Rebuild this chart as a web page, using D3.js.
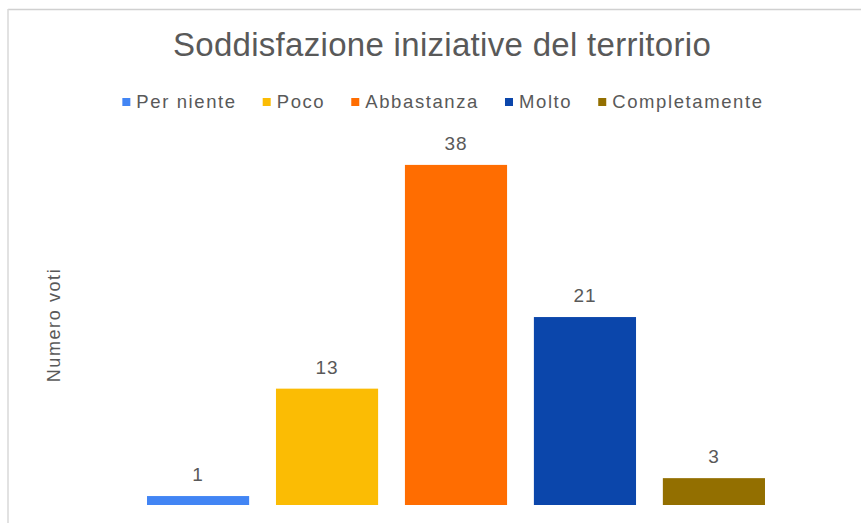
<!DOCTYPE html>
<html lang="en">
<head>
<meta charset="UTF-8">
<title>Soddisfazione iniziative del territorio</title>
<script src="https://d3js.org/d3.v7.min.js"></script>
<style>
  body { margin: 0; background: #fff; }
  text { font-family: "Liberation Sans", Arial, sans-serif; fill: #595959; }
</style>
</head>
<body>
<script>

// data
var categories = ["Per niente", "Poco", "Abbastanza", "Molto", "Completamente"];
var votes = [1, 13, 38, 21, 3];
var colors = ["#4285f4", "#fbbc04", "#ff6d01", "#0b46ab", "#936f00"];

var W = 861, H = 523;

var svg = d3.select("body").append("svg")
    .attr("width", W)
    .attr("height", H);

// frame of the embedded chart (top and left edges)
svg.append("line").attr("x1", 8).attr("x2", W).attr("y1", 9.5).attr("y2", 9.5)
    .attr("stroke", "#d0d0d0").attr("stroke-width", 1.5);
svg.append("line").attr("x1", 8).attr("x2", 8).attr("y1", 9).attr("y2", H)
    .attr("stroke", "#d8d8d8").attr("stroke-width", 1.5);

// title
svg.append("text")
    .attr("x", 442).attr("y", 56)
    .attr("text-anchor", "middle")
    .style("font-size", "33px")
    .style("letter-spacing", "0.3px")
    .text("Soddisfazione iniziative del territorio");

// scales
var x = d3.scaleBand()
    .domain(categories)
    .range([133.6, 778.4])
    .paddingInner(0.208)
    .paddingOuter(0.104);

var y = d3.scaleLinear()
    .domain([0, 40])
    .range([505, 147]);

var color = d3.scaleOrdinal().domain(categories).range(colors);

// legend
var legend = svg.append("g").attr("class", "legend");
var items = legend.selectAll("g")
    .data(categories)
    .enter().append("g");

items.append("rect")
    .attr("width", 8).attr("height", 8)
    .attr("y", 98)
    .attr("fill", function(d) { return color(d); });

items.append("text")
    .attr("x", 14).attr("y", 108)
    .style("font-size", "18.5px")
    .style("letter-spacing", "1.6px")
    .text(function(d) { return d; });

// place legend items one after another, centred
var gap = 26, pos = 0, offsets = [];
items.each(function() {
    offsets.push(pos);
    pos += this.getBBox().width + gap;
});
var total = pos - gap;
var startX = 443 - total / 2;
items.attr("transform", function(d, i) { return "translate(" + (startX + offsets[i]) + ",0)"; });

// bars
svg.append("g")
    .selectAll("rect")
    .data(votes)
    .enter().append("rect")
    .attr("x", function(d, i) { return x(categories[i]); })
    .attr("y", function(d) { return y(d); })
    .attr("width", x.bandwidth())
    .attr("height", function(d) { return y(0) - y(d); })
    .attr("fill", function(d, i) { return color(categories[i]); });

// value labels
svg.append("g")
    .selectAll("text")
    .data(votes)
    .enter().append("text")
    .attr("x", function(d, i) { return x(categories[i]) + x.bandwidth() / 2; })
    .attr("y", function(d) { return y(d) - 15; })
    .attr("text-anchor", "middle")
    .style("font-size", "19px")
    .style("letter-spacing", "1px")
    .text(function(d) { return d; });

// y axis title
svg.append("text")
    .attr("transform", "translate(60,325) rotate(-90)")
    .attr("text-anchor", "middle")
    .style("font-size", "18px")
    .style("letter-spacing", "1.6px")
    .text("Numero voti");

</script>
</body>
</html>
